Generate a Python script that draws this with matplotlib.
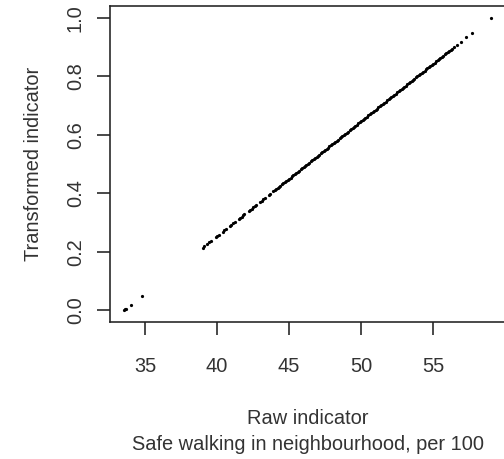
import numpy as np
import matplotlib
matplotlib.use("Agg")
import matplotlib.pyplot as plt

plt.rcParams['font.family'] = ['Liberation Sans', 'DejaVu Sans']

# Raw indicator values (safe walking in neighbourhood, per 100)
raw_low = [33.55, 33.62, 33.7, 34.05, 34.8]
raw_mid = [39.0, 39.1, 39.3, 39.45, 39.6, 39.9, 40.0, 40.1, 40.4, 40.5, 40.6,
           40.9, 41.0, 41.1, 41.25, 41.5, 41.6, 41.7, 41.8, 41.9, 42.2, 42.3,
           42.4, 42.5, 42.6, 42.7, 43.0, 43.1, 43.2, 43.3, 43.6, 43.7, 43.9,
           44.0, 44.1, 44.2, 44.3, 44.4, 44.5, 44.6, 44.7, 44.8, 44.9]
raw_high = [45.0, 45.1, 45.2, 45.3, 45.4, 45.5, 45.6, 45.7, 45.8, 45.9,
            46.0, 46.1, 46.2, 46.3, 46.4, 46.5, 46.6, 46.7, 46.8, 46.9,
            47.0, 47.1, 47.2, 47.3, 47.4, 47.5, 47.6, 47.7, 47.8, 47.9,
            48.0, 48.1, 48.2, 48.3, 48.4, 48.5, 48.6, 48.7, 48.8, 48.9,
            49.0, 49.1, 49.2, 49.3, 49.4, 49.5, 49.6, 49.7, 49.8, 49.9,
            50.0, 50.1, 50.2, 50.3, 50.4, 50.5, 50.6, 50.7, 50.8, 50.9,
            51.0, 51.1, 51.2, 51.3, 51.4, 51.5, 51.6, 51.7, 51.8, 51.9,
            52.0, 52.1, 52.2, 52.3, 52.4, 52.5, 52.6, 52.7, 52.8, 52.9,
            53.0, 53.1, 53.2, 53.3, 53.4, 53.5, 53.6, 53.7, 53.8, 53.9,
            54.0, 54.1, 54.2, 54.3, 54.4, 54.5, 54.6, 54.7, 54.8, 54.9,
            55.0, 55.1, 55.2, 55.3, 55.4, 55.5, 55.6, 55.7, 55.8, 55.9,
            56.0, 56.1, 56.2, 56.3, 56.45]
raw_top = [56.65, 56.9, 57.3, 57.7, 59.0]

raw = np.array(raw_low + raw_mid + raw_high + raw_top)
# min-max rescaling gives the transformed indicator
transformed = (raw - raw.min()) / (raw.max() - raw.min())

x_ticks = [35, 40, 45, 50, 55]
y_ticks = [0.0, 0.2, 0.4, 0.6, 0.8, 1.0]

fig = plt.figure(figsize=(7.0, 6.375), dpi=72)
ax = fig.add_axes([110 / 504, 137 / 459, 396 / 504, 316 / 459])

ax.plot(raw, transformed, 'o', color='black', markersize=3.2, markeredgewidth=0)

ax.set_xlim(32.57, 60.05)
ax.set_ylim(-0.04, 1.04)
ax.set_xticks(x_ticks)
ax.set_yticks(y_ticks)
ax.set_yticklabels(['%.1f' % v for v in y_ticks], rotation=90, va='center')

for s in ax.spines.values():
    s.set_linewidth(1.6)
    s.set_color('#222222')

ax.tick_params(axis='both', direction='out', length=13, width=1.6,
               labelsize=20, color='#222222', labelcolor='#333333')
ax.tick_params(axis='x', pad=22)
ax.tick_params(axis='y', pad=12)

ax.set_xlabel('Raw indicator\nSafe walking in neighbourhood, per 100',
              fontsize=20, labelpad=33, linespacing=1.45, color='#333333')
ax.set_ylabel('Transformed indicator', fontsize=20, labelpad=23, color='#333333')

fig.savefig('out.png', dpi=72)
